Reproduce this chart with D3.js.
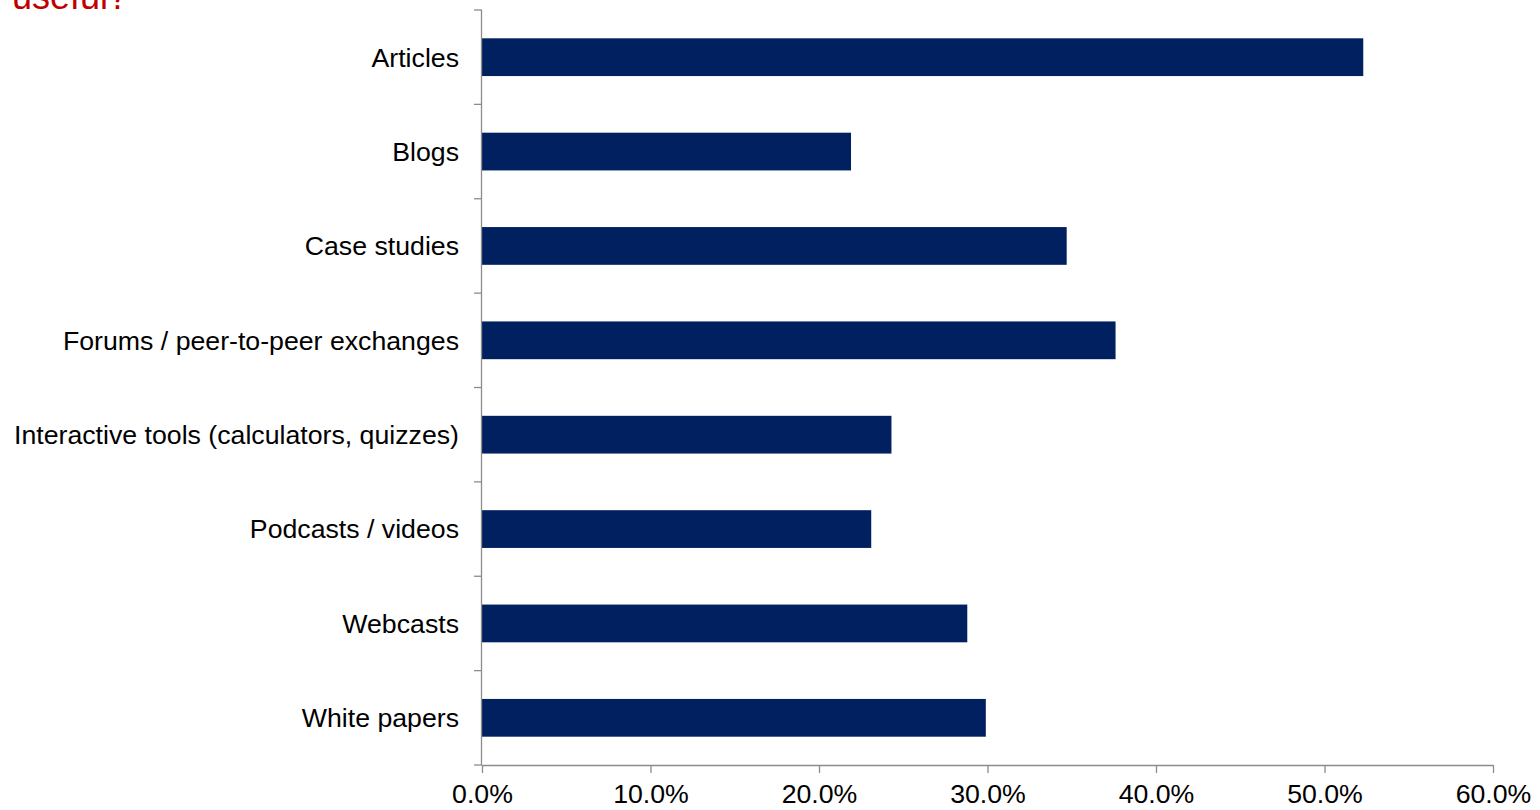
<!DOCTYPE html>
<html>
<head>
<meta charset="utf-8">
<script src="https://cdn.jsdelivr.net/npm/d3@7"></script>
<style>
  html, body { margin: 0; padding: 0; background: #fff; }
  svg { display: block; font-family: Arial, "Liberation Sans", sans-serif; }
</style>
</head>
<body>
<svg id="chart" width="1540" height="810"></svg>
<script>
// Content types and share of respondents finding them useful
const categories = [
  "Articles",
  "Blogs",
  "Case studies",
  "Forums / peer-to-peer exchanges",
  "Interactive tools (calculators, quizzes)",
  "Podcasts / videos",
  "Webcasts",
  "White papers"
];
const values = [0.523, 0.219, 0.347, 0.376, 0.243, 0.231, 0.288, 0.299];
const xTicks = [0, 0.1, 0.2, 0.3, 0.4, 0.5, 0.6];
const titleText = "useful?";

const svg = d3.select("#chart");
const margin = { top: 10, right: 47, bottom: 45, left: 482 };
const W = 1540, H = 810;
const labelSize = 26.7;

const x = d3.scaleLinear().domain([0, 0.6]).range([margin.left, W - margin.right]);
const y = d3.scaleBand().domain(categories).range([margin.top, H - margin.bottom]).paddingInner(0.6).paddingOuter(0.3);

// title (last line, running off the top edge)
svg.append("text")
  .attr("x", 12).attr("y", 9)
  .attr("fill", "#c00000")
  .attr("font-size", 36)
  .text(titleText);

// bars
svg.append("g").selectAll("rect")
  .data(categories)
  .join("rect")
  .attr("x", x(0))
  .attr("y", d => y(d))
  .attr("width", (d, i) => x(values[i]) - x(0))
  .attr("height", y.bandwidth())
  .attr("fill", "#002060");

// y axis line with category boundary ticks
const yAxisG = svg.append("g").attr("stroke", "#8c8c8c").attr("stroke-width", 1.3);
yAxisG.append("line")
  .attr("x1", x(0) - 0.5).attr("x2", x(0) - 0.5)
  .attr("y1", margin.top).attr("y2", H - margin.bottom);
const step = (H - margin.bottom - margin.top) / categories.length;
yAxisG.selectAll("line.tick")
  .data(d3.range(categories.length + 1))
  .join("line")
  .attr("class", "tick")
  .attr("x1", x(0) - 8).attr("x2", x(0))
  .attr("y1", i => margin.top + i * step)
  .attr("y2", i => margin.top + i * step);

// category labels
svg.append("g").selectAll("text")
  .data(categories)
  .join("text")
  .attr("x", x(0) - 23)
  .attr("y", d => y(d) + y.bandwidth() / 2)
  .attr("dy", "0.35em")
  .attr("text-anchor", "end")
  .attr("font-size", labelSize)
  .attr("fill", "#000")
  .text(d => d);

// x axis
const xAxis = d3.axisBottom(x)
  .tickValues(xTicks)
  .tickFormat(d3.format(".1%"))
  .tickSizeInner(8)
  .tickSizeOuter(0)
  .tickPadding(11);
const xg = svg.append("g")
  .attr("transform", `translate(0,${H - margin.bottom})`)
  .call(xAxis);
xg.select(".domain").attr("stroke", "#8c8c8c").attr("stroke-width", 1.3);
xg.selectAll(".tick line").attr("stroke", "#8c8c8c").attr("stroke-width", 1.3);
xg.selectAll(".tick text")
  .attr("font-size", labelSize)
  .attr("font-family", "Arial, 'Liberation Sans', sans-serif")
  .attr("fill", "#000");
</script>
</body>
</html>
